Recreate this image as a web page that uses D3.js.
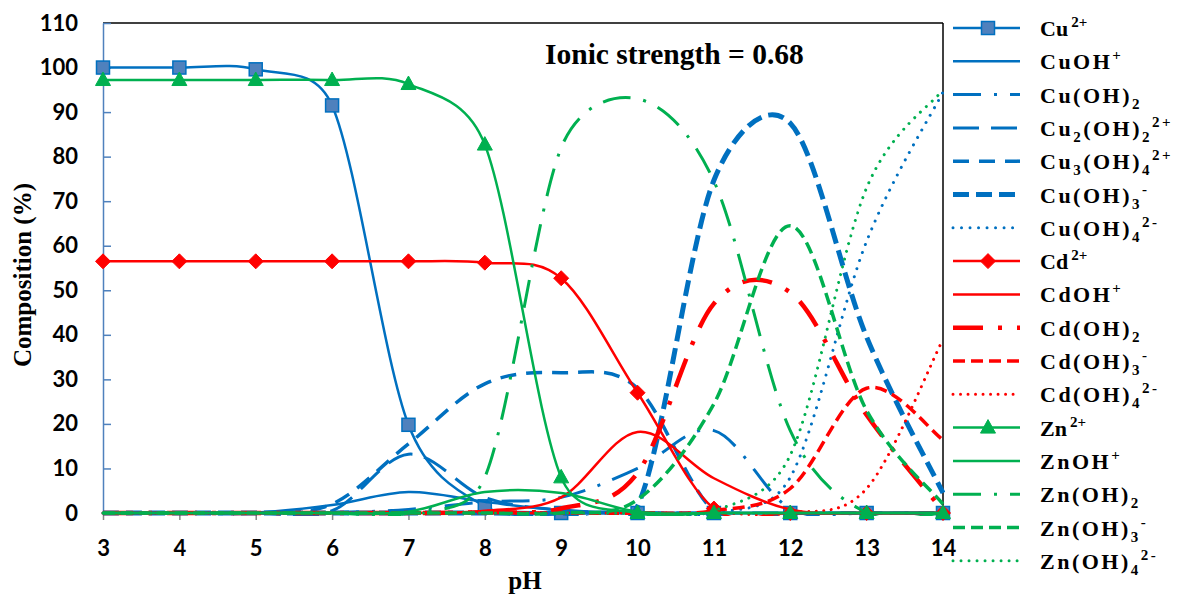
<!DOCTYPE html>
<html><head><meta charset="utf-8">
<script src="https://cdn.jsdelivr.net/npm/d3@7"></script>
<style>
html,body{margin:0;padding:0;background:#fff;}
svg{display:block;}
</style></head><body>
<svg id="chart" width="1182" height="596"></svg>
<script>
// ---------- data ----------
const pH = [3,4,5,6,7,8,9,10,11,12,13,14];
const xTicks = [3,4,5,6,7,8,9,10,11,12,13,14];
const yTicks = [0,10,20,30,40,50,60,70,80,90,100,110];

const cu2    = [100,100,99.6,91.5,19.8,1.5,0,0,0,0,0,0];
const cuOH   = [0,0,0.1,1.8,4.7,2.5,0.6,0.1,0,0,0,0];
const cuOH2  = [0,0,0,0.1,0.8,2.5,3.5,10,18.5,1,0,0];
const cu2OH2 = [0,0,0,0.5,13.2,3.5,0.7,0.1,0,0,0,0];
const cu3OH4 = [0,0,0,2,15.5,29,31.5,28,0.5,0,0,0];
const cuOH3  = [0,0,0,0,0,0,0,1.5,74.7,87.5,39.5,4.5];
const cuOH4  = [0,0,0,0,0,0,0,0,0,8,61,94.5];
const cd2    = [56.5,56.5,56.5,56.5,56.5,56.2,52.7,27,1,0,0,0];
const cdOH   = [0,0,0,0,0,0.5,3.5,18.2,7.8,0.8,0,0];
const cdOH2  = [0,0,0,0,0,0.2,1,9,47,49.5,22,0.5];
const cdOH3  = [0,0,0,0,0,0,0,0,0.5,5.5,28,16.4];
const cdOH4  = [0,0,0,0,0,0,0,0,0,0,5.5,39];
const zn2    = [97.2,97.2,97.2,97.2,96.3,82.7,8,0,0,0,0,0];
const znOH   = [0,0,0,0,0.3,4.7,4.5,0.3,0,0,0,0];
const znOH2  = [0,0,0,0,0,8,82,93,74.5,18.5,0,0];
const znOH3  = [0,0,0,0,0,0,0,3,24.5,64.5,23,2];
const znOH4  = [0,0,0,0,0,0,0,0,0.5,13,73,95];

// legend labels: [text, kind] kind: n normal, b sub, p sup
const labels = [
  [["Cu","n"],["2+","p"]],
  [["CuOH","n"],["+","p"]],
  [["Cu(OH)","n"],["2","b"]],
  [["Cu","n"],["2","b"],["(OH)","n"],["2","b"],["2+","p"]],
  [["Cu","n"],["3","b"],["(OH)","n"],["4","b"],["2+","p"]],
  [["Cu(OH)","n"],["3","b"],["-","p"]],
  [["Cu(OH)","n"],["4","b"],["2-","p"]],
  [["Cd","n"],["2+","p"]],
  [["CdOH","n"],["+","p"]],
  [["Cd(OH)","n"],["2","b"]],
  [["Cd(OH)","n"],["3","b"],["-","p"]],
  [["Cd(OH)","n"],["4","b"],["2-","p"]],
  [["Zn","n"],["2+","p"]],
  [["ZnOH","n"],["+","p"]],
  [["Zn(OH)","n"],["2","b"]],
  [["Zn(OH)","n"],["3","b"],["-","p"]],
  [["Zn(OH)","n"],["4","b"],["2-","p"]]
];
const titleText = "Ionic strength = 0.68";
const xTitle = "pH";
const yTitle = "Composition (%)";

// ---------- styles ----------
const BLUE="#0070C0", RED="#FF0000", GREEN="#00B050";
const styles = [
  {c:BLUE, w:2.5, d:null, m:"square"},
  {c:BLUE, w:2.5, d:null},
  {c:BLUE, w:3, d:"28,13,3,13"},
  {c:BLUE, w:3, d:"26,12"},
  {c:BLUE, w:3.5, d:"16,10"},
  {c:BLUE, w:5, d:"16,7"},
  {c:BLUE, w:3, d:"0.01,8.5", cap:"round"},
  {c:RED, w:2.5, d:null, m:"diamond"},
  {c:RED, w:2.5, d:null},
  {c:RED, w:4.5, d:"30,15,4,15"},
  {c:RED, w:3.5, d:"12,6"},
  {c:RED, w:3, d:"0.01,7.5", cap:"round"},
  {c:GREEN, w:2.5, d:null, m:"triangle"},
  {c:GREEN, w:2.5, d:null},
  {c:GREEN, w:3, d:"28,13,3,13"},
  {c:GREEN, w:3.5, d:"12,6"},
  {c:GREEN, w:3, d:"0.01,8", cap:"round"}
];
const values = [cu2,cuOH,cuOH2,cu2OH2,cu3OH4,cuOH3,cuOH4,cd2,cdOH,cdOH2,cdOH3,cdOH4,zn2,znOH,znOH2,znOH3,znOH4];

// ---------- layout ----------
const L=103, R=943, T=23, B=513;
const svg = d3.select("#chart");
const x = d3.scaleLinear().domain([3,14]).range([L,R]);
const y = d3.scaleLinear().domain([0,110]).range([B,T]);

// frame top/right
svg.append("line").attr("x1",L).attr("x2",R).attr("y1",T).attr("y2",T).attr("stroke","#000").attr("stroke-width",1.5);
svg.append("line").attr("x1",R).attr("x2",R).attr("y1",T).attr("y2",B).attr("stroke","#000").attr("stroke-width",1.5);

// x axis
const gx = svg.append("g").attr("transform",`translate(0,${B})`)
  .call(d3.axisBottom(x).tickValues(xTicks).tickSizeInner(7).tickSizeOuter(0).tickPadding(20).tickFormat(d3.format("d")));
gx.select(".domain").attr("stroke","#868686").attr("stroke-width",1.5);
gx.selectAll(".tick line").attr("stroke","#868686").attr("stroke-width",1.5);
gx.selectAll(".tick text").attr("font-family","Lato, 'Open Sans', sans-serif").attr("font-weight","bold").attr("font-size",22).attr("fill","#000");

// y axis
const gy = svg.append("g").attr("transform",`translate(${L},0)`)
  .call(d3.axisLeft(y).tickValues(yTicks).tickSizeInner(-8).tickSizeOuter(0).tickPadding(25).tickFormat(d3.format("d")));
gy.select(".domain").attr("stroke","#4F81BD").attr("stroke-width",1.5);
gy.selectAll(".tick line").attr("stroke","#4F81BD").attr("stroke-width",1.5);
gy.selectAll(".tick text").attr("font-family","Lato, 'Open Sans', sans-serif").attr("font-weight","bold").attr("font-size",22).attr("fill","#000");

// clip
svg.append("clipPath").attr("id","clip").append("rect")
  .attr("x",L-2).attr("y",T-2).attr("width",R-L+4).attr("height",B-T+5);

// spreadsheet-style smoothing: Catmull-Rom handles, capped at half the segment length
function smoothPath(v){
  const pts = v.map((d,i)=>[x(pH[i]), y(d)]);
  const p = d3.path();
  p.moveTo(pts[0][0], pts[0][1]);
  const n = pts.length;
  for(let i=0;i<n-1;i++){
    const p0 = pts[Math.max(i-1,0)], p1 = pts[i], p2 = pts[i+1], p3 = pts[Math.min(i+2,n-1)];
    const seg = Math.hypot(p2[0]-p1[0], p2[1]-p1[1]);
    let t1 = [(p2[0]-p0[0])/6, (p2[1]-p0[1])/6];
    let t2 = [(p3[0]-p1[0])/6, (p3[1]-p1[1])/6];
    const l1 = Math.hypot(t1[0],t1[1]), l2 = Math.hypot(t2[0],t2[1]);
    if(l1 > seg/2){ const f = seg/2/l1; t1 = [t1[0]*f, t1[1]*f]; }
    if(l2 > seg/2){ const f = seg/2/l2; t2 = [t2[0]*f, t2[1]*f]; }
    p.bezierCurveTo(p1[0]+t1[0], p1[1]+t1[1], p2[0]-t2[0], p2[1]-t2[1], p2[0], p2[1]);
  }
  return p.toString();
}

const plot = svg.append("g");
function marker(g, type, cx, cy, color){
  if(type==="square"){
    g.append("rect").attr("x",cx-6.5).attr("y",cy-6.5).attr("width",13).attr("height",13)
      .attr("fill","#4F81BD").attr("stroke",BLUE).attr("stroke-width",1.5);
  } else if(type==="diamond"){
    g.append("path").attr("d",`M${cx},${cy-7.5}L${cx+7.5},${cy}L${cx},${cy+7.5}L${cx-7.5},${cy}Z`).attr("fill",color).attr("stroke",color);
  } else if(type==="triangle"){
    g.append("path").attr("d",`M${cx},${cy-8}L${cx+7.5},${cy+5.5}L${cx-7.5},${cy+5.5}Z`).attr("fill",color).attr("stroke",color);
  }
}
values.forEach((v,k)=>{
  const s = styles[k];
  const g = plot.append("g");
  g.append("path").attr("d",smoothPath(v)).attr("fill","none").attr("stroke",s.c).attr("stroke-width",s.w)
    .attr("stroke-dasharray",s.d).attr("stroke-linecap",s.cap||"butt").attr("clip-path","url(#clip)");
  if(s.m){ v.forEach((d,i)=>marker(g,s.m,x(pH[i]),y(d),s.c)); }
});

// title
svg.append("text").attr("x",545).attr("y",64).attr("font-family","'Liberation Serif', serif").attr("font-weight","bold")
  .attr("font-size",29.5).text(titleText);
svg.append("text").attr("x",525).attr("y",589).attr("text-anchor","middle").attr("font-family","'Liberation Serif', serif")
  .attr("font-weight","bold").attr("font-size",25).text(xTitle);
svg.append("text").attr("transform","translate(31,275) rotate(-90)").attr("text-anchor","middle")
  .attr("font-family","'Liberation Serif', serif").attr("font-weight","bold").attr("font-size",25).text(yTitle);

// legend
const lg = svg.append("g");
labels.forEach((parts,k)=>{
  const s = styles[k];
  const cy = 28 + k*33.3;
  lg.append("line").attr("x1",953).attr("x2",1020).attr("y1",cy).attr("y2",cy)
    .attr("stroke",s.c).attr("stroke-width",s.w).attr("stroke-dasharray",s.d).attr("stroke-linecap",s.cap||"butt");
  if(s.m) marker(lg,s.m,988,cy,s.c);
  const ion = parts.length===2 && parts[1][1]==="p" && parts[1][0]==="2+";
  const t = lg.append("text").attr("x",1040).attr("y",cy+8).attr("font-family","'Liberation Serif', serif")
    .attr("font-weight","bold").attr("font-size",22).attr("letter-spacing", ion?0:2.5);
  let prev = 0;
  parts.forEach(([txt,kind])=>{
    const shift = kind==="p" ? -9 : kind==="b" ? 6 : 0;
    const ts = t.append("tspan").attr("dy",shift-prev).attr("font-size",kind==="n"?22:15).text(txt);
    if(ion && kind==="p") ts.attr("dx",3);
    prev = shift;
  });
});
</script>
</body></html>
